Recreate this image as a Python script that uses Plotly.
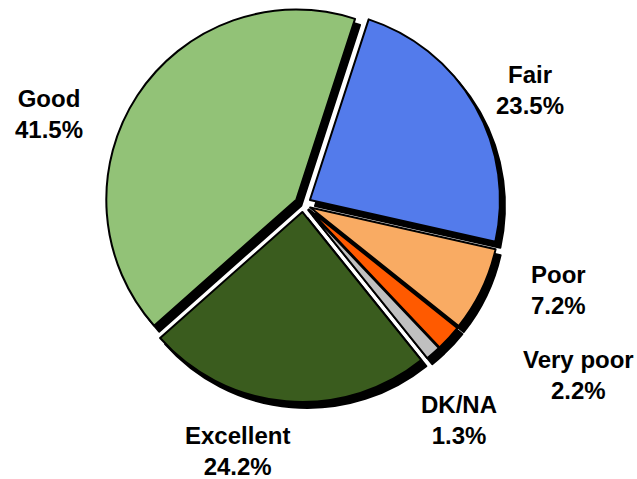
import plotly.graph_objects as go

# Data (clockwise from the top)
labels = ["Fair", "Poor", "Very poor", "DK/NA", "Excellent", "Good"]
values = [23.5, 7.2, 2.2, 1.3, 24.2, 41.5]
colors = ["#537BEB", "#F9AB63", "#FF5A00", "#C0C0C0", "#3A5C1E", "#92C277"]

W, H = 637, 479
# pie box in pixels
cx, cy, half = 303, 204, 198
pull = 0.042
sdx, sdy = 5, 6  # shadow offset px

def dom(ox=0, oy=0):
    return dict(
        x=[(cx - half + ox) / W, (cx + half + ox) / W],
        y=[1 - (cy + half + oy) / H, 1 - (cy - half + oy) / H],
    )

common = dict(labels=labels, values=values, sort=False, direction="clockwise",
              rotation=18, pull=[pull] * len(values), textinfo="none",
              hoverinfo="skip", showlegend=False)

shadow = go.Pie(**common, domain=dom(sdx, sdy),
                marker=dict(colors=["#000000"] * len(values),
                            line=dict(color="#000000", width=2)))
main = go.Pie(**common, domain=dom(),
              marker=dict(colors=colors, line=dict(color="#000000", width=2)))

fig = go.Figure([shadow, main])

# label text centres (pixels)
label_pos = {
    "Fair": (530, 90),
    "Poor": (558, 290),
    "Very poor": (578, 375),
    "DK/NA": (459, 420),
    "Excellent": (237, 451),
    "Good": (49, 114),
}
annotations = []
for lab, val in zip(labels, values):
    px, py = label_pos[lab]
    annotations.append(dict(
        x=px / W, y=1 - py / H, xref="paper", yref="paper",
        text=f"<b>{lab}</b><br><b>{val:.1f}%</b>", showarrow=False,
        xanchor="center", yanchor="middle", align="center",
        font=dict(family="Liberation Sans, Arial, sans-serif", size=24, color="#000000"),
    ))

fig.update_layout(
    width=W, height=H, margin=dict(l=0, r=0, t=0, b=0),
    paper_bgcolor="#FFFFFF", plot_bgcolor="#FFFFFF",
    annotations=annotations,
)
fig.write_html("out.html", config={"displayModeBar": False},
               post_script="document.body.style.margin='0px';")
